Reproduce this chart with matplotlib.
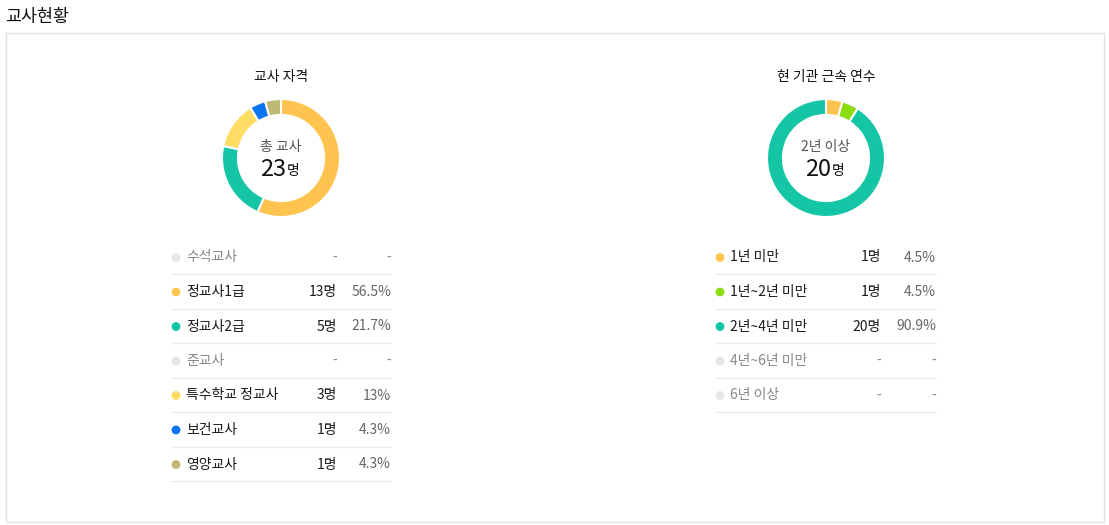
import matplotlib.pyplot as plt
from matplotlib.patches import Rectangle

plt.rcParams['font.family'] = ['Noto Sans CJK KR', 'DejaVu Sans']

# ── Data ──────────────────────────────────────────────────────────────────────
qual_labels = ["수석교사", "정교사1급", "정교사2급", "준교사", "특수학교 정교사", "보건교사", "영양교사"]
qual_counts = [0, 13, 5, 0, 3, 1, 1]
qual_colors = ["#e6e6e6", "#ffc44f", "#14c6a6", "#e6e6e6", "#ffdc64", "#0b74f0", "#bdb872"]

years_labels = ["1년 미만", "1년~2년 미만", "2년~4년 미만", "4년~6년 미만", "6년 이상"]
years_counts = [1, 1, 20, 0, 0]
years_colors = ["#ffc44f", "#8cdc10", "#14c6a6", "#e6e6e6", "#e6e6e6"]

W, H = 1109, 525
fig = plt.figure(figsize=(W / 100, H / 100), dpi=100)
ax = fig.add_axes([0, 0, 1, 1])
ax.set_xlim(0, W)
ax.set_ylim(H, 0)
ax.axis("off")

ax.text(5, 17, "교사현황", fontsize=12.5, fontweight="medium", color="#111111", va="center", ha="left")
ax.add_patch(Rectangle((6, 33), 1098, 489, fill=False, edgecolor="#dfe1e8", linewidth=1))


def pct_str(v, total):
    p = round(v / total * 100, 1)
    return f"{p:.0f}%" if p == int(p) else f"{p:.1f}%"


def donut(cx, cy, r, counts, colors, title, sub, big):
    pax = fig.add_axes([(cx - r) / W, 1 - (cy + r) / H, 2 * r / W, 2 * r / H])
    vals = [v for v in counts if v > 0]
    cols = [c for v, c in zip(counts, colors) if v > 0]
    pax.pie(vals, colors=cols, startangle=90, counterclock=False, radius=1,
            wedgeprops=dict(width=0.27, edgecolor="white", linewidth=1.5))
    pax.set_xlim(-1, 1); pax.set_ylim(-1, 1)
    pax.set_aspect("equal")
    pax.axis("off")
    ax.text(cx, 77, title, fontsize=10, fontweight="medium", color="#111111", ha="center", va="center")
    ax.text(cx, cy - 11, sub, fontsize=10, color="#555555", ha="center", va="center")
    ax.text(cx + 5, cy + 11, big, fontsize=17, fontweight="medium", color="#111111", ha="right", va="center")
    ax.text(cx + 6, cy + 13, "명", fontsize=10, color="#111111", ha="left", va="center")


def table(x0, x1, xcount, labels, counts, colors):
    total = sum(counts)
    y = 257.5
    for lab, v, c in zip(labels, counts, colors):
        ax.scatter([x0 + 5], [y], s=40, color=c, edgecolors="none")
        ax.text(x0 + 15, y, lab, fontsize=10, va="center", ha="left",
                color="#1a1a1a" if v else "#888888")
        ax.text(xcount, y, f"{v}명" if v else "-", fontsize=10, va="center", ha="right",
                color="#1a1a1a" if v else "#888888")
        ax.text(x1, y, pct_str(v, total) if v else "-", fontsize=10, va="center", ha="right",
                color="#666666" if v else "#888888")
        ax.plot([x0, x1], [y + 16.5, y + 16.5], color="#ececec", linewidth=1)
        y += 34.5


donut(281, 158, 59, qual_counts, qual_colors, "교사 자격", "총 교사", "23")
donut(826, 158, 59, years_counts, years_colors, "현 기관 근속 연수", "2년 이상", "20")
table(171, 391, 337, qual_labels, qual_counts, qual_colors)
table(715, 936, 881, years_labels, years_counts, years_colors)

fig.savefig("out.png", dpi=100)
